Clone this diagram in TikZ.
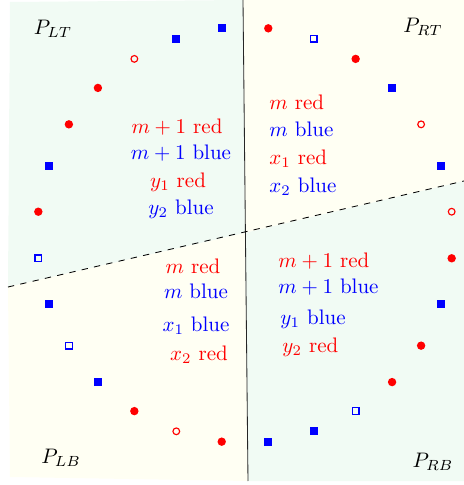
\documentclass[tikz,border=0pt]{standalone}
\usepackage{amsmath}
\usetikzlibrary{calc}

\definecolor{mintbg}{RGB}{241,251,244}
\definecolor{creambg}{RGB}{255,255,243}

\begin{document}
\begin{tikzpicture}[x=0.476pt, y=0.476pt,
  rdot/.style={circle, fill=red, inner sep=0pt, minimum size=4pt},
  rring/.style={circle, draw=red, line width=0.55pt, inner sep=0pt, minimum size=3.2pt},
  bsq/.style={rectangle, fill=blue, inner sep=0pt, minimum size=3.8pt},
  bbox/.style={rectangle, draw=blue, line width=0.6pt, inner sep=0pt, minimum size=3.2pt},
  lbl/.style={anchor=mid, inner sep=0pt}]
  \useasboundingbox (0,0) rectangle (464,485);
  % corners of the four regions, in pixels of the page
  \coordinate (tl) at (10,483);
  \coordinate (tm) at (243,485);
  \coordinate (tr) at (464,485);
  \coordinate (ml) at (8,198);
  \coordinate (mm) at (245,252);
  \coordinate (mr) at (464,304);
  \coordinate (bl) at (10,8);
  \coordinate (bm) at (248,4);
  \coordinate (br) at (464,4);
  % centre of the ring of points, radius 208
  \coordinate (O) at (245,250);

  \fill[mintbg]  (tl) -- (tm) -- (mm) -- (ml) -- cycle;
  \fill[creambg] (tm) -- (tr) -- (mr) -- (mm) -- cycle;
  \fill[creambg] (ml) -- (mm) -- (bm) -- (bl) -- cycle;
  \fill[mintbg]  (mm) -- (mr) -- (br) -- (bm) -- cycle;

  \draw[black!85] (tm) -- (bm);
  \draw[dashed] (ml) -- (mr);

  % 28 points, half a step off the x axis
  \foreach \k/\kind in {0/rring, 1/bsq, 2/rring, 3/bsq, 4/rdot, 5/bbox, 6/rdot,
      7/bsq, 8/bsq, 9/rring, 10/rdot, 11/rdot, 12/bsq, 13/rdot,
      14/bbox, 15/bsq, 16/bbox, 17/bsq, 18/rdot, 19/rring, 20/rdot,
      21/bsq, 22/bsq, 23/bbox, 24/rdot, 25/rdot, 26/bsq, 27/rdot} {
    \pgfmathsetmacro{\ang}{(\k+0.5)*360/28}
    \node[\kind] (p\k) at ($(O)+(\ang:208)$) {};
  }

  \node (PLT) at (53,456) {$P_{LT}$};
  \node (PRT) at (423,458) {$P_{RT}$};
  \node (PLB) at (61,27)  {$P_{LB}$};
  \node (PRB) at (433,23) {$P_{RB}$};

  % left top
  \node[lbl, red]  (lt1) at (177,356) {$m+1$ red};
  \node[lbl, blue] (lt2) at (181,330) {$m+1$ blue};
  \node[lbl, red]  (lt3) at (178,302) {$y_1$ red};
  \node[lbl, blue] (lt4) at (181,275) {$y_2$ blue};
  % right top
  \node[lbl, anchor=mid west, red]  (rt1) at (269,380) {$m$ red};
  \node[lbl, anchor=mid west, blue] (rt2) at (269,353) {$m$ blue};
  \node[lbl, anchor=mid west, red]  (rt3) at (269,325) {$x_1$ red};
  \node[lbl, anchor=mid west, blue] (rt4) at (269,297) {$x_2$ blue};
  % left bottom
  \node[lbl, red]  (lb1) at (193,216) {$m$ red};
  \node[lbl, blue] (lb2) at (196,191) {$m$ blue};
  \node[lbl, blue] (lb3) at (196,158) {$x_1$ blue};
  \node[lbl, red]  (lb4) at (199,129) {$x_2$ red};
  % right bottom
  \node[lbl, anchor=mid west, red]  (rb1) at (278,222) {$m+1$ red};
  \node[lbl, anchor=mid west, blue] (rb2) at (278,196) {$m+1$ blue};
  \node[lbl, anchor=mid west, blue] (rb3) at (280,165) {$y_1$ blue};
  \node[lbl, anchor=mid west, red]  (rb4) at (282,137) {$y_2$ red};
\end{tikzpicture}
\end{document}
